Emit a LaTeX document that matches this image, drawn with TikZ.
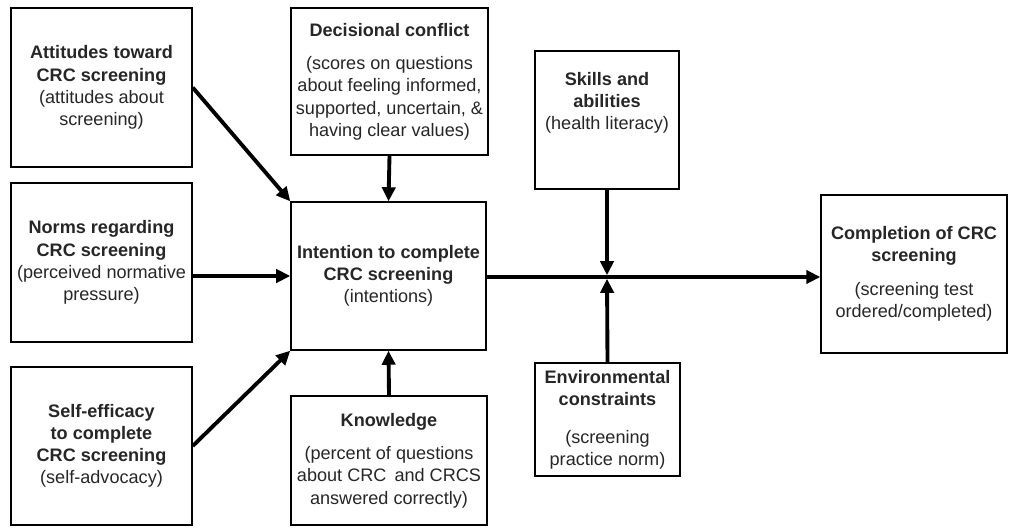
\documentclass[tikz,border=0pt]{standalone}
\usepackage{fontspec}
\setmainfont{Liberation Sans}
\usetikzlibrary{arrows.meta}
\begin{document}
\begin{tikzpicture}[x=0.02cm,y=-0.02cm,
    box/.style={draw,line width=0.8pt,align=center,inner sep=2pt,
      font=\fontsize{10.3}{12.6}\selectfont,text=black!85},
    arr/.style={-{Triangle[length=8pt,width=7.5pt]},line width=2.2pt}]
  \def\gap{\\[6.5pt]}
  \useasboundingbox (0,0) rectangle (1010,527);
  % left column
  \node[box,minimum width=181*0.02cm,minimum height=159*0.02cm] (att) at (101.5,87.5)
    {\textbf{Attitudes toward}\\\textbf{CRC screening}\\(attitudes about\\screening)};
  \node[box,minimum width=181*0.02cm,minimum height=159*0.02cm] (nrm) at (101.5,262.5)
    {\textbf{Norms regarding}\\\textbf{CRC screening}\\(perceived normative\\pressure)};
  \node[box,minimum width=181*0.02cm,minimum height=158*0.02cm] (slf) at (101.5,446)
    {\textbf{Self-efficacy}\\\textbf{to complete}\\\textbf{CRC screening}\\(self-advocacy)};
  % middle column
  \node[box,minimum width=197*0.02cm,minimum height=147*0.02cm] (dec) at (389.5,81.5)
    {\textbf{Decisional conflict}\gap(scores on questions\\about feeling informed,\\supported, uncertain, \&\\having clear values)};
  \node[box,minimum width=195*0.02cm,minimum height=148*0.02cm] (int) at (388.5,276)
    {\textbf{Intention to complete}\\\textbf{CRC screening}\\(intentions)};
  \node[box,minimum width=196*0.02cm,minimum height=129*0.02cm] (knw) at (389,460.5)
    {\textbf{Knowledge}\gap(percent of questions\\about CRC\, and CRCS\\answered correctly)};
  % moderators
  \node[box,minimum width=144*0.02cm,minimum height=138*0.02cm] (skl) at (607,120)
    {\textbf{Skills and}\\\textbf{abilities}\\(health literacy)\\[9pt]~};
  \node[box,minimum width=145*0.02cm,minimum height=113*0.02cm] (env) at (607.5,419.5)
    {\textbf{Environmental}\\\textbf{constraints}\\[9pt](screening\\practice norm)};
  % outcome
  \node[box,minimum width=186*0.02cm,minimum height=158*0.02cm] (cmp) at (914,274)
    {\textbf{Completion of CRC}\\\textbf{screening}\gap(screening test\\ordered/completed)};
  \coordinate (jn) at (607,277);
  % arrows into intention
  \foreach \src/\dst in {att.east/int.north west, slf.east/int.south west,
                         dec.south/int.north, knw.north/int.south} {
      \draw[arr] (\src) -- (\dst);
  }
  \draw[arr] (nrm.east |- int.west) -- (int.west);
  \draw[arr] (int.east |- jn) -- (cmp.west |- jn);
  \draw[arr,shorten >=1pt] (skl.south) -- (jn); % down onto the line
  \draw[arr,shorten >=1pt] (env.north) -- (jn); % up onto the line
\end{tikzpicture}
\end{document}
